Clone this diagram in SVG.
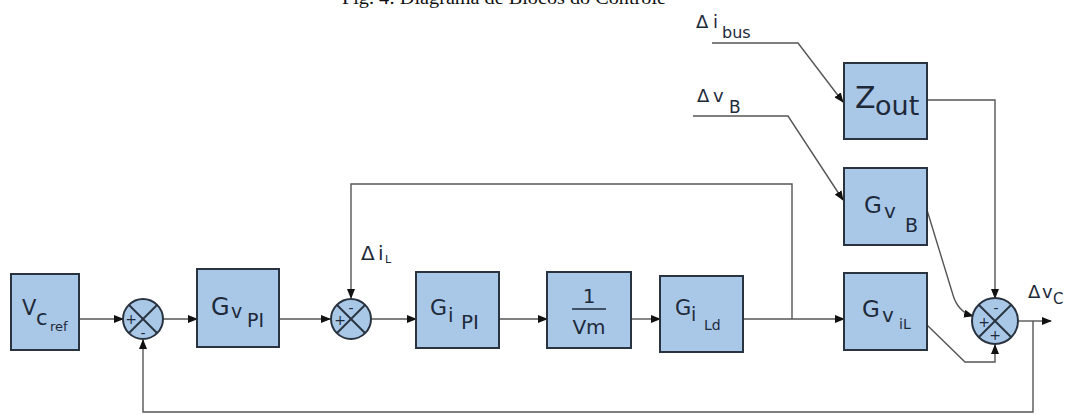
<svg xmlns="http://www.w3.org/2000/svg" width="1071" height="415" viewBox="0 0 1071 415">
<style>
.blk{fill:#a9c8e8;stroke:#2a3340;stroke-width:2}
.sum{fill:#a9c8e8;stroke:#2a3340;stroke-width:2}
.x{stroke:#2a3340;stroke-width:2}
.ln{fill:none;stroke:#555;stroke-width:1.4}
.t{font-family:"DejaVu Sans",sans-serif;fill:#1e2a3a}
.sg{font-family:"DejaVu Sans",sans-serif;fill:#1e2a3a;font-size:14px;text-anchor:middle}
.cap{font-family:"Liberation Serif",serif;font-size:18px;fill:#111}
</style>
<defs>
<marker id="ar" markerWidth="10" markerHeight="8" refX="9" refY="4" orient="auto" markerUnits="userSpaceOnUse">
<path d="M0,0 L10,4 L0,8 z" fill="#111"/>
</marker>
</defs>
<rect width="1071" height="415" fill="#fff"/>
<text class="cap" x="342" y="4" textLength="324" lengthAdjust="spacingAndGlyphs">Fig. 4: Diagrama de Blocos do Controle</text>

<g id="connectors">
<line class="ln" x1="79" y1="319" x2="123" y2="319" marker-end="url(#ar)"/>
<line class="ln" x1="163" y1="319" x2="197" y2="319" marker-end="url(#ar)"/>
<line class="ln" x1="279" y1="319" x2="330" y2="319" marker-end="url(#ar)"/>
<line class="ln" x1="372" y1="319" x2="416" y2="319" marker-end="url(#ar)"/>
<line class="ln" x1="499" y1="319" x2="547" y2="319" marker-end="url(#ar)"/>
<line class="ln" x1="631" y1="319" x2="660" y2="319" marker-end="url(#ar)"/>
<line class="ln" x1="743" y1="319" x2="844" y2="319" marker-end="url(#ar)"/>
<polyline class="ln" points="792,319 792,184 351,184 351,298" marker-end="url(#ar)"/>
<polyline class="ln" points="1033,321 1033,412 143,412 143,340" marker-end="url(#ar)"/>
<line class="ln" x1="1019" y1="321" x2="1051" y2="321" marker-end="url(#ar)"/>
<polyline class="ln" points="927,100 995,100 995,298" marker-end="url(#ar)"/>
<path class="ln" d="M927,210 L953,295 Q958,312 973,316" marker-end="url(#ar)"/>
<polyline class="ln" points="927,325 965,362 995,362 995,345" marker-end="url(#ar)"/>
<polyline class="ln" points="712,43 798,43 843,102" marker-end="url(#ar)"/>
<polyline class="ln" points="693,116 788,116 843,200" marker-end="url(#ar)"/>
</g>

<g id="vcref">
<rect class="blk" x="11" y="274" width="68" height="76"/>
<text class="t"><tspan x="22" y="315" font-size="21">V</tspan><tspan x="36" y="325" font-size="21">c</tspan><tspan x="50" y="331" font-size="13">ref</tspan></text>
</g>

<g id="sum1">
<circle class="sum" cx="143" cy="319" r="20"/>
<line class="x" x1="129" y1="305" x2="157" y2="333"/>
<line class="x" x1="157" y1="305" x2="129" y2="333"/>
<text class="sg" x="131" y="324">+</text>
<text class="sg" x="143" y="338">-</text>
</g>

<g id="gvpi">
<rect class="blk" x="197" y="269" width="82" height="78"/>
<text class="t"><tspan x="211" y="315" font-size="24">G</tspan><tspan x="231" y="318" font-size="19">v</tspan><tspan x="247" y="327" font-size="19">PI</tspan></text>
</g>

<g id="sum2">
<circle class="sum" cx="351" cy="319" r="20"/>
<line class="x" x1="337" y1="305" x2="365" y2="333"/>
<line class="x" x1="365" y1="305" x2="337" y2="333"/>
<text class="sg" x="351" y="313">-</text>
<text class="sg" x="340" y="325">+</text>
</g>

<g id="dil">
<text class="t"><tspan x="361" y="260" font-size="20">Δ</tspan><tspan x="378" y="260" font-size="20">i</tspan><tspan x="385" y="263" font-size="11">L</tspan></text>
</g>

<g id="gipi">
<rect class="blk" x="416" y="272" width="83" height="76"/>
<text class="t"><tspan x="430" y="315" font-size="22">G</tspan><tspan x="448" y="322" font-size="20">i</tspan><tspan x="461" y="329" font-size="20">PI</tspan></text>
</g>

<g id="invvm">
<rect class="blk" x="547" y="272" width="84" height="76"/>
<text class="t" x="589" y="303" font-size="20" text-anchor="middle">1</text>
<line x1="572" y1="309" x2="606" y2="309" stroke="#1e2a3a" stroke-width="1.5"/>
<text class="t" x="589" y="334" font-size="20" text-anchor="middle">Vm</text>
</g>

<g id="gild">
<rect class="blk" x="660" y="276" width="83" height="76"/>
<text class="t"><tspan x="675" y="315" font-size="21">G</tspan><tspan x="691" y="321" font-size="19">i</tspan><tspan x="704" y="330" font-size="14">Ld</tspan></text>
</g>

<g id="zout">
<rect class="blk" x="844" y="63" width="83" height="76"/>
<text class="t"><tspan x="855" y="108" font-size="30">Z</tspan><tspan x="875" y="115" font-size="27">out</tspan></text>
</g>

<g id="gvb">
<rect class="blk" x="844" y="168" width="83" height="77"/>
<text class="t"><tspan x="864" y="213" font-size="23">G</tspan><tspan x="884" y="218" font-size="20">v</tspan><tspan x="905" y="232" font-size="19">B</tspan></text>
</g>

<g id="gvil">
<rect class="blk" x="844" y="273" width="83" height="77"/>
<text class="t"><tspan x="862" y="317" font-size="23">G</tspan><tspan x="882" y="322" font-size="20">v</tspan><tspan x="899" y="329" font-size="14">iL</tspan></text>
</g>

<g id="sum3">
<circle class="sum" cx="995" cy="321" r="23"/>
<line class="x" x1="979" y1="305" x2="1011" y2="337"/>
<line class="x" x1="1011" y1="305" x2="979" y2="337"/>
<text class="sg" x="996" y="313">-</text>
<text class="sg" x="984" y="327" font-size="16">+</text>
<text class="sg" x="995" y="340" font-size="16">+</text>
</g>

<g id="dvc">
<text class="t"><tspan x="1028" y="298" font-size="18">Δ</tspan><tspan x="1042" y="298" font-size="18">v</tspan><tspan x="1053" y="304" font-size="15">C</tspan></text>
</g>

<g id="dibus">
<text class="t"><tspan x="696" y="28" font-size="18">Δ</tspan><tspan x="713" y="28" font-size="18">i</tspan><tspan x="722" y="38" font-size="16">bus</tspan></text>
</g>

<g id="dvb">
<text class="t"><tspan x="697" y="102" font-size="18">Δ</tspan><tspan x="713" y="102" font-size="18">v</tspan><tspan x="729" y="113" font-size="17">B</tspan></text>
</g>
</svg>
